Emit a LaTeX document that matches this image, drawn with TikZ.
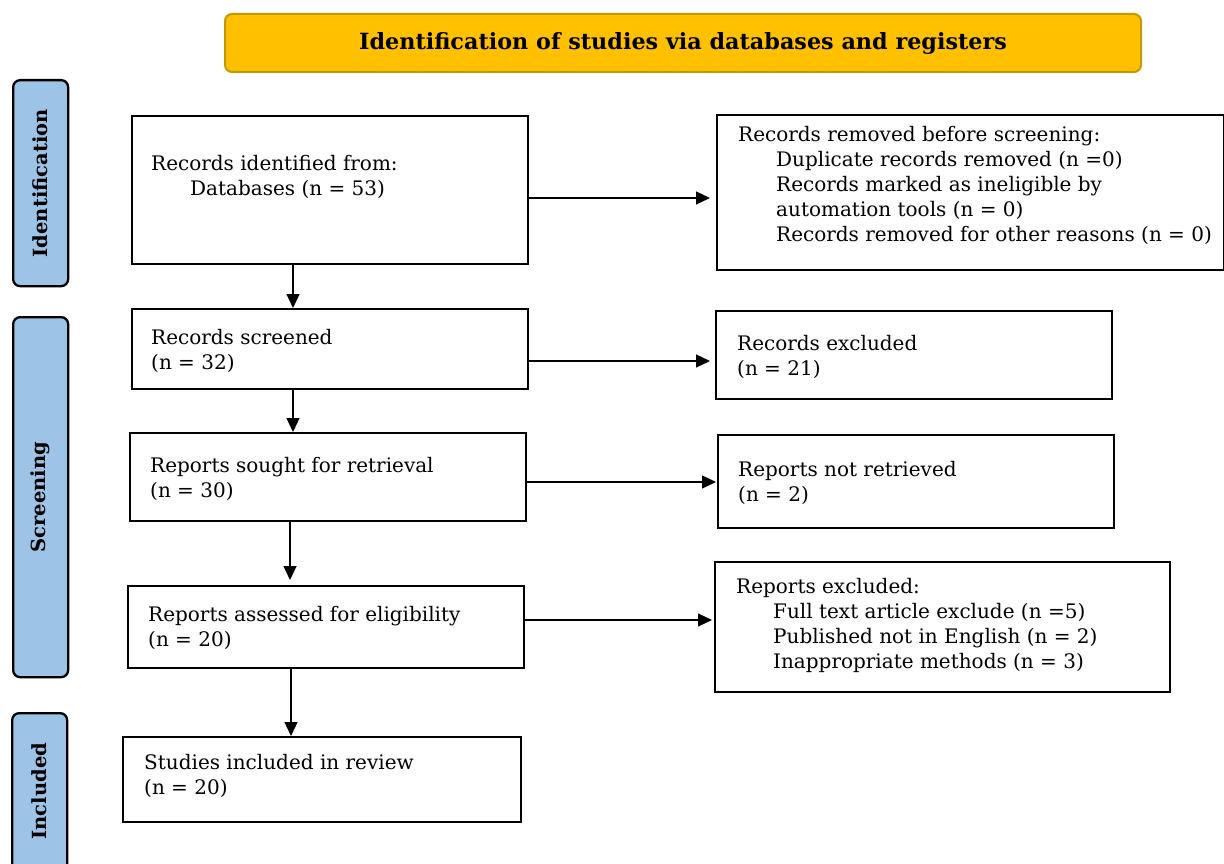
\documentclass[tikz,border=0pt]{standalone}
\usepackage{fontspec}
\setmainfont{DejaVu Serif}
\usetikzlibrary{arrows.meta}
\definecolor{titlefill}{HTML}{FFC000}
\definecolor{titledraw}{HTML}{C49A00}
\definecolor{phasefill}{HTML}{9DC3E6}
\begin{document}
\begin{tikzpicture}[x=1pt,y=-1pt,
  box/.style={draw=black, line width=2.3pt, rectangle, inner sep=0pt, anchor=north west},
  phase/.style={draw=black, line width=2.3pt, rounded corners=7pt, fill=phasefill, anchor=north west, inner sep=0pt},
  phaselabel/.style={rotate=90, font=\bfseries\fontsize{19.5}{22}\selectfont, inner sep=0pt},
  txt/.style={anchor=north west, align=left, inner sep=0pt, font=\fontsize{20}{25}\selectfont},
  arr/.style={line width=1.2pt, -{Triangle[length=14pt,width=13pt]}}
]
\clip (0,0) rectangle (1224,864);
\fill[white] (0,0) rectangle (1224,864);

% title
\node[draw=titledraw, line width=2pt, fill=titlefill, rounded corners=7pt, anchor=north west,
      minimum width=916pt, minimum height=58pt, inner sep=0pt] (title) at (224,13) {};
\node[font=\bfseries\fontsize{22.3}{26}\selectfont, inner sep=0pt] (titletxt) at ([yshift=-1pt]title.center)
  {Identification of studies via databases and registers};

% phases
\node[phase, minimum width=55pt, minimum height=206pt] (pid) at (12,79) {};
\node[phaselabel] (pidt) at (pid.center) {Identification};
\node[phase, minimum width=55pt, minimum height=360pt] (psc) at (12,316) {};
\node[phaselabel] (psct) at (psc.center) {Screening};
\node[phase, minimum width=55pt, minimum height=160pt] (pin) at (11,712) {};
\node[phaselabel] (pint) at ([yshift=2pt]pin.center) {Included};

% left boxes
\node[box, minimum width=396pt, minimum height=148pt] (b1) at (131,115) {};
\node[txt] (b1t) at (151,155) {Records identified from:\\\hspace*{39pt}Databases (n = 53)};
\node[box, minimum width=396pt, minimum height=80pt] (b2) at (131,308) {};
\node[txt] (b2t) at (151,329) {Records screened\\(n = 32)};
\node[box, minimum width=396pt, minimum height=88pt] (b3) at (129,432) {};
\node[txt] (b3t) at (150,457) {Reports sought for retrieval\\(n = 30)};
\node[box, minimum width=396pt, minimum height=82pt] (b4) at (127,585) {};
\node[txt] (b4t) at (148,606) {Reports assessed for eligibility\\(n = 20)};
\node[box, minimum width=398pt, minimum height=85pt] (b5) at (122,736) {};
\node[txt] (b5t) at (144,754) {Studies included in review\\(n = 20)};

% right boxes
\node[box, minimum width=507pt, minimum height=155pt] (r1) at (716,114) {};
\node[txt] (r1t) at (738,126) {Records removed before screening:\\
  \hspace*{38pt}Duplicate records removed (n =0)\\
  \hspace*{38pt}Records marked as ineligible by\\
  \hspace*{38pt}automation tools (n = 0)\\
  \hspace*{38pt}Records removed for other reasons (n = 0)};
\node[box, minimum width=396pt, minimum height=88pt] (r2) at (715,310) {};
\node[txt] (r2t) at (737,335) {Records excluded\\(n = 21)};
\node[box, minimum width=396pt, minimum height=93pt] (r3) at (717,434) {};
\node[txt] (r3t) at (738,461) {Reports not retrieved\\(n = 2)};
\node[box, minimum width=455pt, minimum height=130pt] (r4) at (714,561) {};
\node[txt] (r4t) at (736,578) {Reports excluded:\\
  \hspace*{37pt}Full text article exclude (n =5)\\
  \hspace*{37pt}Published not in English (n = 2)\\
  \hspace*{37pt}Inappropriate methods (n = 3)};

% horizontal arrows
\coordinate (a1s) at (b1.east |- 0,198);
\draw[arr] (a1s) -- ([xshift=-6pt]r1.west |- a1s);
\coordinate (a2s) at (b2.east |- 0,361);
\draw[arr] (a2s) -- ([xshift=-5pt]r2.west |- a2s);
\coordinate (a3s) at (b3.east |- 0,482);
\draw[arr] (a3s) -- ([xshift=-1pt]r3.west |- a3s);
\coordinate (a4s) at (b4.east |- 0,620);
\draw[arr] (a4s) -- ([xshift=-2pt]r4.west |- a4s);

% vertical arrows
\coordinate (v1) at (293,0);
\draw[arr] (b1.south -| v1) -- (b2.north -| v1);
\coordinate (v2) at (293,0);
\draw[arr] (b2.south -| v2) -- (b3.north -| v2);
\coordinate (v3) at (290,0);
\draw[arr] (b3.south -| v3) -- ([yshift=5pt]b4.north -| v3);
\coordinate (v4) at (291,0);
\draw[arr] (b4.south -| v4) -- (b5.north -| v4);
\end{tikzpicture}
\end{document}
